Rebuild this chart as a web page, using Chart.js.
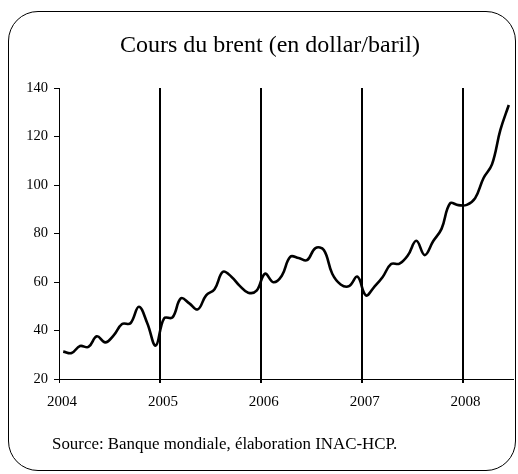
<!DOCTYPE html>
<html>
<head>
<meta charset="utf-8">
<script src="https://cdn.jsdelivr.net/npm/chart.js@4/dist/chart.umd.min.js"></script>
<style>
  html, body { margin: 0; padding: 0; background: #fff; }
  #wrap { position: relative; width: 518px; height: 474px; overflow: hidden; }
  #frame { position: absolute; left: 8px; top: 11px; width: 506px; height: 458px;
           border: 1.5px solid #000; border-radius: 30px; }
  #title { position: absolute; left: 0; width: 540px; top: 32px; text-align: center;
           font-family: "Liberation Serif", "Times New Roman", serif; font-size: 24px; line-height: 1; color: #000; }
  #source { position: absolute; left: 52px; top: 436px;
           font-family: "Liberation Serif", "Times New Roman", serif; font-size: 16.9px; line-height: 1; color: #000; }
  canvas { position: absolute; left: 0; top: 0; }
</style>
</head>
<body>
<div id="wrap">
  <div id="frame"></div>
  <canvas id="c" width="518" height="474"></canvas>
  <div id="title">Cours du brent (en dollar/baril)</div>
  <div id="source">Source: Banque mondiale, élaboration INAC-HCP.</div>
</div>
<script>
// Monthly Brent price, Jan 2004 .. Jun 2008 (dollar/baril)
const years = [2004, 2005, 2006, 2007, 2008];
const price2004 = [31.3, 30.7, 33.6, 33.2, 37.6, 35.1, 38.0, 42.7, 43.0, 49.8, 43.0, 33.8];
const price2005 = [45.0, 45.4, 53.3, 51.2, 48.7, 54.5, 57.0, 64.2, 62.2, 58.4, 55.6, 56.4];
const price2006 = [63.4, 59.9, 62.6, 70.4, 69.9, 69.0, 74.0, 73.2, 63.4, 59.0, 58.3, 62.2];
const price2007 = [54.5, 58.0, 62.1, 67.4, 67.6, 71.0, 77.0, 71.1, 76.8, 81.9, 92.4, 91.7];
const price2008 = [91.8, 94.6, 102.9, 108.5, 122.7, 133.0];
const yTicks = [20, 40, 60, 80, 100, 120, 140];

const series = [price2004, price2005, price2006, price2007, price2008];
const points = [];
series.forEach((arr, yi) => {
  arr.forEach((v, m) => {
    points.push({ x: years[yi] + (m + 0.5) / 12, y: v });
  });
});

const serif = "'Liberation Serif', 'Times New Roman', serif";

new Chart(document.getElementById('c'), {
  type: 'line',
  data: {
    datasets: [{
      data: points,
      borderColor: '#000',
      borderWidth: 2.6,
      pointRadius: 0,
      tension: 0.4,
      fill: false
    }]
  },
  options: {
    responsive: false,
    animation: false,
    events: [],
    layout: { padding: { left: 0, top: 88, right: 5, bottom: 0 } },
    plugins: { legend: { display: false }, title: { display: false }, tooltip: { enabled: false } },
    scales: {
      x: {
        type: 'linear',
        min: 2004,
        max: 2008.5,
        afterFit: (s) => { s.height = 95; },
        border: { display: true, color: '#000', width: 1 },
        grid: {
          drawOnChartArea: true,
          drawTicks: true,
          tickLength: 4,
          color: '#000',
          lineWidth: (ctx) => (ctx.tick && ctx.tick.value === years[0]) ? 1 : 2
        },
        ticks: {
          stepSize: 1,
          includeBounds: false,
          autoSkip: false,
          maxRotation: 0,
          padding: 10,
          labelOffset: 3,
          color: '#000',
          font: { family: serif, size: 15 },
          callback: (v) => String(v)
        }
      },
      y: {
        min: yTicks[0],
        max: yTicks[yTicks.length - 1],
        afterFit: (s) => { s.width = 59; },
        border: { display: true, color: '#000', width: 1 },
        grid: { drawOnChartArea: false, drawTicks: true, tickLength: 5, color: '#000', lineWidth: 1 },
        afterBuildTicks: (s) => { s.ticks = yTicks.map(v => ({ value: v })); },
        ticks: {
          padding: 6,
          color: '#000',
          font: { family: serif, size: 14.5 },
          callback: (v) => String(v)
        }
      }
    }
  }
});
</script>
</body>
</html>
